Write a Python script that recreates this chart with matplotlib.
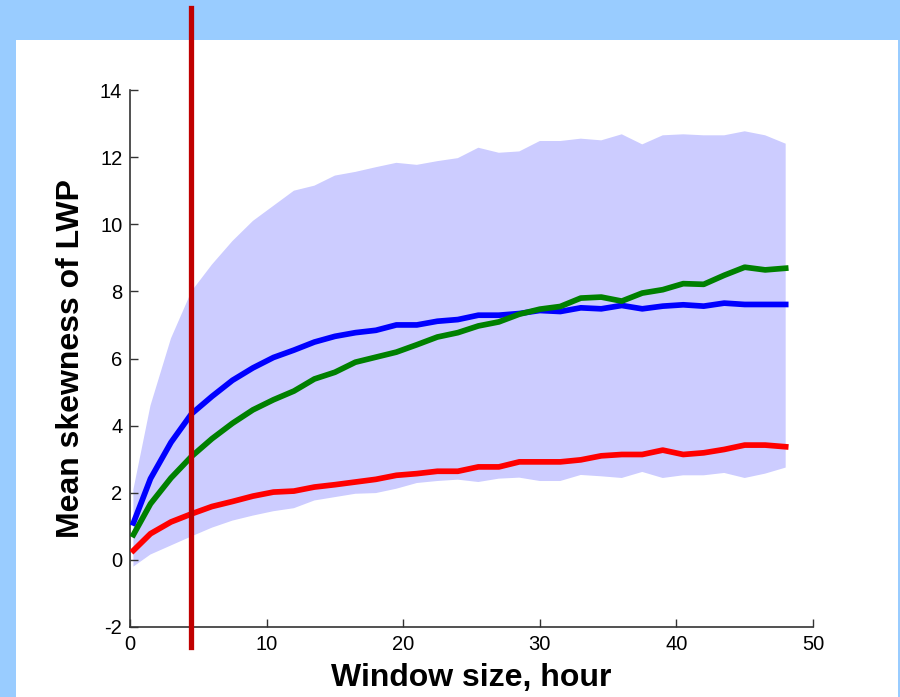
import numpy as np
import matplotlib
matplotlib.use("Agg")
import matplotlib.pyplot as plt
from matplotlib.patches import Rectangle
from matplotlib.transforms import blended_transform_factory

# ---------------- data ----------------
window_hours = [0.25] + [1.5 * k for k in range(1, 33)]

upper_band = [2.1, 4.6, 6.6, 8.0, 8.8, 9.5, 10.1, 10.55, 11.0, 11.15, 11.45, 11.56,
              11.7, 11.83, 11.77, 11.88, 11.97, 12.28, 12.13, 12.17, 12.48, 12.48,
              12.55, 12.5, 12.68, 12.38, 12.65, 12.68, 12.65, 12.65, 12.77, 12.65, 12.4]
lower_band = [-0.2, 0.16, 0.43, 0.7, 0.96, 1.17, 1.32, 1.45, 1.54, 1.77, 1.87, 1.97,
              1.99, 2.12, 2.29, 2.35, 2.39, 2.32, 2.42, 2.45, 2.35, 2.35, 2.53,
              2.49, 2.44, 2.62, 2.44, 2.52, 2.52, 2.59, 2.44, 2.57, 2.75]
blue_mean = [1.1, 2.42, 3.5, 4.35, 4.87, 5.35, 5.72, 6.03, 6.25, 6.49, 6.66, 6.77,
             6.84, 7.0, 7.0, 7.11, 7.16, 7.29, 7.29, 7.34, 7.43, 7.4, 7.51,
             7.48, 7.58, 7.48, 7.56, 7.6, 7.56, 7.65, 7.61, 7.61, 7.61]
green_mean = [0.75, 1.67, 2.44, 3.08, 3.61, 4.07, 4.47, 4.77, 5.03, 5.39, 5.59, 5.89,
              6.04, 6.19, 6.41, 6.64, 6.77, 6.97, 7.09, 7.32, 7.47, 7.55, 7.8,
              7.83, 7.71, 7.95, 8.05, 8.23, 8.21, 8.48, 8.72, 8.64, 8.69]
red_mean = [0.28, 0.78, 1.13, 1.37, 1.59, 1.74, 1.9, 2.02, 2.05, 2.17, 2.24, 2.32,
            2.4, 2.52, 2.57, 2.64, 2.64, 2.77, 2.77, 2.92, 2.92, 2.92, 2.98,
            3.1, 3.14, 3.14, 3.27, 3.14, 3.19, 3.29, 3.42, 3.42, 3.37]
window_marker = 4.5

x_ticks = [0, 10, 20, 30, 40, 50]
y_ticks = [-2, 0, 2, 4, 6, 8, 10, 12, 14]
x_label = "Window size, hour"
y_label = "Mean skewness of LWP"

# ---------------- figure ----------------
plt.rcParams['font.family'] = ['Liberation Sans', 'DejaVu Sans']
W, H = 900, 697
fig = plt.figure(figsize=(W / 100, H / 100), dpi=100, facecolor='#99CCFF')
fig.add_artist(Rectangle((16 / W, 0), (898 - 16) / W, 1 - 40 / H,
                         transform=fig.transFigure, facecolor='white',
                         edgecolor='none', zorder=0))

ax = fig.add_axes([130 / W, (H - 627) / H, (813 - 130) / W, (627 - 90) / H])
ax.set_facecolor('none')

ax.fill_between(window_hours, lower_band, upper_band, facecolor='#CCCCFF',
                edgecolor='none', zorder=1)
ax.plot(window_hours, blue_mean, color='#0000FF', lw=4.1, zorder=3,
        solid_joinstyle='round')
ax.plot(window_hours, green_mean, color='#008000', lw=4.1, zorder=3,
        solid_joinstyle='round')
ax.plot(window_hours, red_mean, color='#FF0000', lw=4.1, zorder=3,
        solid_joinstyle='round')

trans = blended_transform_factory(ax.transData, fig.transFigure)
ax.plot([window_marker, window_marker], [1 - 8 / H, 1 - 647 / H],
        transform=trans, color='#C00000', lw=3.8, clip_on=False, zorder=5)

ax.set_xlim(0, 50)
ax.set_ylim(-2, 14)
ax.set_xticks(x_ticks)
ax.set_yticks(y_ticks)
ax.set_xticklabels([str(v) for v in x_ticks])
ax.set_yticklabels([str(v) for v in y_ticks])

for s in ['top', 'right']:
    ax.spines[s].set_visible(False)
for s in ['left', 'bottom']:
    ax.spines[s].set_color('#333333')
    ax.spines[s].set_linewidth(1.2)

ax.tick_params(direction='in', length=5.5, width=1.0, color='#333333',
               labelsize=14.5, labelcolor='black', pad=5.5)

ax.set_xlabel(x_label, fontsize=23, fontweight='bold', va='center')
ax.xaxis.set_label_coords(0.5, (627 - 678) / 537)
ax.set_ylabel(y_label, fontsize=23, fontweight='bold', va='center')
ax.yaxis.set_label_coords((71 - 130) / 683, (627 - 359) / 537)

fig.savefig('out.png', dpi=100, facecolor=fig.get_facecolor())
